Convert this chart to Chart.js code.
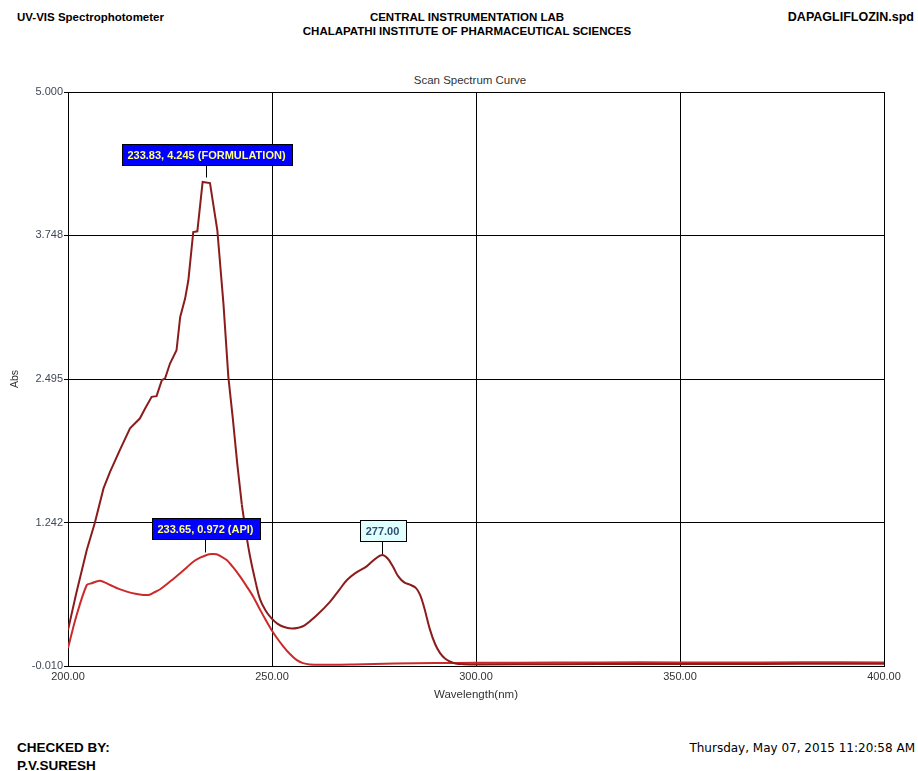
<!DOCTYPE html>
<html>
<head>
<meta charset="utf-8">
<script src="https://cdn.jsdelivr.net/npm/chart.js@4"></script>
<style>
  html, body { margin: 0; padding: 0; background: #fff; }
  body { width: 918px; height: 771px; position: relative; overflow: hidden; font-family: "Liberation Sans", Arial, sans-serif; color: #000; }
  .t { position: absolute; white-space: nowrap; line-height: 14px; }
  .b { font-weight: bold; font-size: 11.5px; }
  #chart { position: absolute; left: 0; top: 0; }
</style>
</head>
<body>
<div class="t b" style="left:17px; top:10px;">UV-VIS Spectrophotometer</div>
<div class="t b" style="left:0; width:934px; text-align:center; top:10px;">CENTRAL INSTRUMENTATION LAB</div>
<div class="t b" style="left:0; width:934px; text-align:center; top:24px;">CHALAPATHI INSTITUTE OF PHARMACEUTICAL SCIENCES</div>
<div class="t b" style="right:4px; top:10px; font-size:12.5px;">DAPAGLIFLOZIN.spd</div>
<div class="t" style="left:0; width:940px; text-align:center; top:73px; font-size:11.5px; color:#333;">Scan Spectrum Curve</div>
<div class="t b" style="left:17px; top:741px; font-size:13.5px;">CHECKED BY:</div>
<div class="t b" style="left:17px; top:759px; font-size:13.5px;">P.V.SURESH</div>
<div class="t" style="right:3px; top:741px; font-size:12px; font-family:'DejaVu Sans', sans-serif;">Thursday, May 07, 2015 11:20:58 AM</div>
<canvas id="chart" width="918" height="771"></canvas>
<script>
// wavelength (nm) / absorbance
const formWl = [200, 202, 204.6, 206.6, 208.7, 210.3, 212.7, 215.2, 217.6, 218.9, 220.5, 221.7, 223, 223.8, 225, 226.6, 227.5, 228.7, 229.5, 230.7, 231.7, 233.0, 234.8, 236.6, 238.1, 239.3, 240.4, 241.5, 242.6, 243.5, 244.6, 246, 247.1, 248.5, 249.9, 251.3, 252.8, 254.8, 256.5, 258, 260.9, 264.2, 266.5, 268.5, 270.8, 273.2, 275.3, 277.0, 278.3, 279.6, 281.0, 282.4, 283.8, 285.3, 286.3, 287.3, 288.7, 290, 291.2, 292.4, 293.6, 295, 296.9, 301, 320, 340, 360, 380, 400];
const formAbs = [0.305, 0.62, 1.003, 1.242, 1.54, 1.685, 1.874, 2.064, 2.15, 2.238, 2.339, 2.345, 2.485, 2.50, 2.63, 2.746, 3.037, 3.197, 3.357, 3.778, 3.784, 4.215, 4.205, 3.793, 3.153, 2.514, 2.15, 1.75, 1.40, 1.18, 0.95, 0.72, 0.57, 0.47, 0.405, 0.36, 0.332, 0.317, 0.325, 0.345, 0.43, 0.55, 0.655, 0.745, 0.81, 0.86, 0.925, 0.958, 0.93, 0.86, 0.77, 0.72, 0.70, 0.67, 0.61, 0.50, 0.31, 0.18, 0.102, 0.055, 0.029, 0.012, 0.006, 0.004, 0.006, 0.008, 0.008, 0.009, 0.01];
const formSplitWl = 242.6; // jagged straight segments before, smooth trace after

const apiWl = [200, 202, 204.6, 205.8, 207.8, 210.3, 212.3, 214.4, 216.5, 218.5, 220, 221, 222.6, 224.2, 225.8, 227.5, 229.1, 230.7, 232.4, 234, 235.2, 236.4, 237.6, 238.9, 240.5, 242.2, 243.8, 245.4, 247.1, 248.5, 249.9, 251.3, 252.8, 254.4, 256, 257.6, 259.3, 265, 270, 280, 290, 300, 320, 340, 360, 380, 400];
const apiAbs = [0.146, 0.42, 0.697, 0.712, 0.735, 0.697, 0.665, 0.639, 0.62, 0.61, 0.612, 0.63, 0.66, 0.703, 0.75, 0.80, 0.85, 0.90, 0.935, 0.959, 0.967, 0.965, 0.945, 0.915, 0.85, 0.77, 0.685, 0.595, 0.48, 0.39, 0.305, 0.23, 0.16, 0.095, 0.044, 0.015, 0.004, 0.0, 0.003, 0.012, 0.016, 0.018, 0.02, 0.022, 0.02, 0.022, 0.021];

const xTicks = [200, 250, 300, 350, 400];
const yTicks = [-0.010, 1.242, 2.495, 3.748, 5.000];

// peak pick labels
const peakWl = [233.83, 233.65, 277.00];
const peakAbs = [4.245, 0.972, 0.958];
const peakText = ['233.83, 4.245 (FORMULATION)', '233.65, 0.972 (API)', '277.00'];
const peakKind = ['main', 'main', 'plain'];

const toPoints = (xs, ys) => xs.map((x, i) => ({ x: x, y: ys[i] }));
const formPts = toPoints(formWl, formAbs);

const peakLabels = {
  id: 'peakLabels',
  afterDatasetsDraw(chart) {
    const ctx = chart.ctx;
    const xs = chart.scales.x, ys = chart.scales.y;
    ctx.save();
    ctx.font = 'bold 11px "Liberation Sans", Arial, sans-serif';
    ctx.textAlign = 'center';
    ctx.textBaseline = 'middle';
    peakWl.forEach((wl, i) => {
      const px = Math.round(xs.getPixelForValue(wl)) + 0.5;
      const py = ys.getPixelForValue(peakAbs[i]);
      const w = Math.round(ctx.measureText(peakText[i]).width + 12);
      const h = 21;
      const bottom = Math.round(py - 14) + 0.5;
      const left = Math.round(px - w / 2) + 0.5;
      ctx.strokeStyle = '#000';
      ctx.lineWidth = 1;
      ctx.beginPath();
      ctx.moveTo(px, bottom);
      ctx.lineTo(px, py - 1);
      ctx.stroke();
      ctx.fillStyle = peakKind[i] === 'main' ? '#0000ff' : '#e0ffff';
      ctx.fillRect(left, bottom - h, w, h);
      ctx.strokeRect(left, bottom - h, w, h);
      ctx.fillStyle = peakKind[i] === 'main' ? '#ffff80' : '#2f4f6f';
      ctx.fillText(peakText[i], px, bottom - h / 2 + 0.5);
    });
    ctx.restore();
  }
};

const axisFont = { size: 11, family: '"Liberation Sans", Arial, sans-serif' };

new Chart(document.getElementById('chart'), {
  type: 'line',
  data: {
    datasets: [
      { label: 'FORMULATION', data: formPts.filter(p => p.x <= formSplitWl), borderColor: '#8b1c1c', borderWidth: 2, pointRadius: 0, tension: 0 },
      { label: 'FORMULATION', data: formPts.filter(p => p.x >= formSplitWl), borderColor: '#8b1c1c', borderWidth: 2, pointRadius: 0, tension: 0.4 },
      { label: 'API', data: toPoints(apiWl, apiAbs), borderColor: '#cc2a2a', borderWidth: 2, pointRadius: 0, tension: 0.3 }
    ]
  },
  options: {
    responsive: false,
    animation: false,
    layout: { padding: { left: 0, top: 92, right: 34, bottom: 65 } },
    plugins: { legend: { display: false }, tooltip: { enabled: false } },
    scales: {
      x: {
        type: 'linear', min: 200, max: 400,
        afterBuildTicks: s => { s.ticks = xTicks.map(v => ({ value: v })); },
        afterFit: s => { s.height = 40; },
        grid: { color: '#000', lineWidth: 1, drawTicks: false },
        border: { color: '#000', width: 1 },
        ticks: { padding: 4, maxRotation: 0, color: '#333', font: axisFont, callback: v => v.toFixed(2) },
        title: { display: true, text: 'Wavelength(nm)', color: '#333', padding: { top: 2, bottom: 4 }, font: { size: 11.5, family: axisFont.family } }
      },
      y: {
        type: 'linear', min: -0.010, max: 5.000,
        afterBuildTicks: s => { s.ticks = yTicks.map(v => ({ value: v })); },
        afterFit: s => { s.width = 68; },
        grid: { color: '#000', lineWidth: 1, tickLength: 4 },
        border: { color: '#000', width: 1 },
        ticks: { padding: 1, color: '#404858', font: axisFont, callback: v => v.toFixed(3) },
        title: { display: true, text: 'Abs', color: '#333', padding: { top: 9, bottom: 2 }, font: { size: 10.5, family: axisFont.family } }
      }
    }
  },
  plugins: [peakLabels]
});
</script>
</body>
</html>
